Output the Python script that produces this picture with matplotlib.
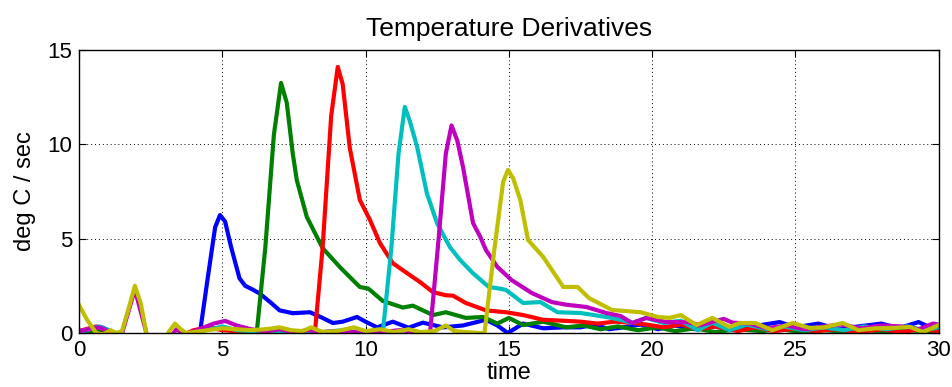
import numpy as np
import matplotlib
matplotlib.use("Agg")
import matplotlib.pyplot as plt

# values (time in sec, deg C / sec)
blue_t = [0, 0.5, 0.8, 1.1, 1.5, 3.5, 4.0, 4.22, 4.5, 4.75, 4.92, 5.1, 5.3, 5.6, 5.8, 6.0, 6.3, 6.7, 7.0,
          7.46, 8.06, 8.5, 8.86, 9.2, 9.7, 10.0, 10.4, 10.95, 11.5, 12.0, 12.7, 13.4, 14.2, 14.6, 14.96,
          15.5, 16.2, 16.9, 17.5, 18.0, 18.5, 19.0, 19.6, 20.2, 20.8, 21.5, 22.2, 22.8, 23.5, 24.45, 25.0,
          25.8, 26.5, 27.2, 28.0, 28.6, 29.3, 29.7, 30]
blue_y = [-0.2, 0.1, 0.3, 0.1, -0.3, -0.3, -0.1, 0.0, 3.0, 5.6, 6.25, 5.9, 4.6, 2.9, 2.5, 2.35, 2.1, 1.6, 1.2,
          1.05, 1.1, 0.8, 0.53, 0.6, 0.85, 0.6, 0.3, 0.6, 0.28, 0.55, 0.3, 0.4, 0.7, 0.4, 0.0,
          0.5, 0.25, 0.3, 0.3, 0.45, 0.2, 0.3, 0.45, 0.2, 0.4, 0.2, 0.35, 0.15, 0.35, 0.58, 0.3,
          0.5, 0.2, 0.35, 0.5, 0.25, 0.58, 0.3, 0.2]

green_t = [0, 0.6, 1.0, 1.5, 3.5, 4.0, 4.5, 5.0, 5.5, 6.0, 6.2, 6.5, 6.8, 7.05, 7.25, 7.46, 7.6, 7.95, 8.5,
           9.1, 9.56, 9.8, 10.1, 10.6, 11.3, 11.65, 12.35, 12.8, 13.5, 14.1, 14.6, 15.0, 15.5, 16.2, 17.0,
           17.6, 18.2, 18.8, 19.5, 20.2, 20.8, 21.5, 22.2, 23.0, 23.8, 24.5, 25.2, 26.0, 26.8, 27.5, 28.3,
           29.0, 29.6, 30]
green_y = [-0.2, 0.2, 0.1, -0.3, -0.2, 0.1, 0.3, 0.2, 0.1, 0.05, 0.0, 4.5, 10.5, 13.25, 12.2, 9.5, 8.1, 6.15, 4.5,
           3.5, 2.8, 2.44, 2.35, 1.7, 1.35, 1.45, 0.95, 1.1, 0.8, 0.85, 0.5, 0.8, 0.42, 0.6, 0.3,
           0.4, 0.2, 0.35, 0.15, 0.3, 0.1, 0.25, 0.05, 0.2, 0.1, 0.2, 0.05, 0.15, 0.05, 0.15, 0.05,
           0.15, 0.05, 0.1]

red_t = [0, 0.6, 1.0, 1.4, 3.5, 4.0, 4.5, 5.0, 5.5, 6.0, 6.5, 7.0, 7.5, 8.0, 8.23, 8.5, 8.8, 9.03, 9.2, 9.45,
         9.8, 10.15, 10.5, 10.95, 11.44, 11.9, 12.35, 12.8, 13.05, 13.5, 14.2, 14.9, 15.5, 16.2, 16.9,
         17.5, 18.1, 18.7, 19.2, 19.8, 20.4, 21.0, 21.6, 22.2, 23.0, 23.6, 24.3, 25.0, 25.7, 26.4, 27.2,
         28.0, 28.7, 29.4, 30]
red_y = [0.1, 0.35, 0.1, -0.3, -0.2, 0.15, 0.3, 0.15, 0.1, 0.15, 0.05, 0.2, 0.05, -0.05, 0.0, 4.5, 11.5, 14.1, 13.2, 9.8,
         7.05, 6.0, 4.77, 3.7, 3.18, 2.7, 2.17, 2.0, 1.98, 1.59, 1.2, 1.1, 0.95, 0.7, 0.65,
         0.6, 0.5, 0.6, 0.55, 0.45, 0.3, 0.45, 0.2, 0.35, 0.1, 0.3, 0.1, 0.25, 0.1, 0.2, 0.05,
         0.2, 0.05, 0.2, 0.1]

cyan_t = [0, 0.7, 1.1, 1.5, 3.5, 4.0, 4.6, 5.0, 5.5, 6.0, 6.6, 7.2, 7.8, 8.5, 9.2, 9.8, 10.2, 10.6, 10.9, 11.15,
          11.37, 11.55, 11.8, 12.14, 12.5, 12.94, 13.3, 13.74, 14.3, 14.7, 14.9, 15.5, 16.1, 16.7, 17.5,
          18.4, 18.9, 19.3, 19.8, 20.4, 21.0, 21.6, 22.1, 22.7, 23.3, 24.0, 24.6, 25.3, 26.0, 26.7, 27.4,
          28.2, 28.9, 29.5, 30]
cyan_y = [0.05, 0.35, 0.1, -0.3, -0.2, 0.05, 0.2, 0.35, 0.15, 0.1, 0.15, 0.05, 0.1, 0.05, 0.15, 0.0, -0.05, 0.0, 4.5, 9.5,
          11.98, 11.2, 9.86, 7.4, 5.8, 4.56, 3.87, 3.18, 2.44, 2.35, 2.28, 1.59, 1.64, 1.1, 1.06,
          0.85, 0.7, 0.53, 0.8, 0.53, 0.65, 0.15, 0.55, 0.15, 0.45, 0.2, 0.35, 0.15, 0.3, 0.15, 0.35,
          0.2, 0.35, 0.15, 0.3]

mag_t = [0, 0.7, 1.1, 1.45, 1.6, 1.95, 2.3, 2.4, 3.2, 3.4, 3.7, 4.2, 4.7, 5.1, 5.5, 6.0, 6.5, 7.0, 7.5, 8.0,
         8.5, 9.0, 9.5, 10.0, 10.5, 11.2, 11.8, 12.25, 12.55, 12.8, 13.0, 13.2, 13.4, 13.75, 14.0, 14.2,
         14.6, 15.1, 15.8, 16.5, 17.0, 17.7, 18.4, 18.9, 19.3, 19.8, 20.5, 21.2, 21.7, 22.5, 22.8, 23.4,
         24.0, 24.7, 25.3, 26.0, 26.6, 27.3, 28.0, 28.7, 29.3, 29.8, 30]
mag_y = [0.1, 0.3, 0.05, -0.3, 0.5, 2.3, 0.3, -0.3, -0.2, 0.2, -0.1, 0.2, 0.5, 0.64, 0.4, 0.2, 0.1, 0.2, 0.05, 0.15,
         0.05, 0.1, 0.05, 0.1, 0.05, 0.15, 0.05, 0.0, 5.0, 9.5, 11.0, 10.2, 8.8, 5.83, 5.1, 4.4,
         3.5, 2.8, 2.12, 1.64, 1.5, 1.38, 1.06, 0.9, 0.53, 0.8, 0.58, 0.58, 0.42, 0.75, 0.55, 0.5,
         0.25, 0.4, 0.2, 0.35, 0.45, 0.25, 0.4, 0.35, 0.2, 0.5, 0.45]

yel_t = [0, 0.3, 0.6, 0.8, 1.1, 1.3, 1.5, 1.75, 1.95, 2.15, 2.35, 2.5, 3.0, 3.15, 3.35, 3.55, 3.75, 4.0, 4.5,
         5.0, 5.5, 6.0, 6.5, 7.0, 7.4, 7.8, 8.1, 8.5, 9.0, 9.6, 10.0, 10.5, 11.0, 11.5, 11.9, 12.4, 12.8,
         13.1, 13.5, 14.0, 14.15, 14.5, 14.8, 14.97, 15.15, 15.4, 15.67, 16.2, 16.9, 17.4, 17.8, 18.6,
         19.6, 20.2, 20.6, 21.0, 21.55, 22.1, 22.7, 23.05, 23.6, 24.2, 24.9, 25.5, 26.0, 26.65, 27.2,
         27.8, 28.4, 29.0, 29.45, 30]
yel_y = [1.48, 0.65, 0.0, -0.1, 0.15, 0.0, 0.1, 1.4, 2.5, 1.6, 0.0, -0.4, -0.3, 0.1, 0.5, 0.2, 0.0, 0.05, 0.15,
         0.25, 0.2, 0.15, 0.2, 0.3, 0.15, 0.1, 0.3, 0.05, 0.1, 0.3, 0.1, 0.2, 0.05, 0.2, 0.05, 0.1, 0.4,
         0.1, 0.05, 0.0, 0.0, 4.5, 8.0, 8.64, 8.2, 7.05, 4.93, 4.03, 2.44, 2.44, 1.85, 1.22,
         1.1, 0.85, 0.8, 0.95, 0.42, 0.8, 0.32, 0.53, 0.53, 0.15, 0.53, 0.27, 0.3, 0.53, 0.15,
         0.25, 0.27, 0.32, 0.05, 0.42]

series = [
    (blue_t, blue_y, (0, 0, 1)),
    (green_t, green_y, (0, 0.5, 0)),
    (red_t, red_y, (1, 0, 0)),
    (cyan_t, cyan_y, (0, 0.75, 0.75)),
    (mag_t, mag_y, (0.75, 0, 0.75)),
    (yel_t, yel_y, (0.75, 0.75, 0)),
]

plt.rcParams['font.family'] = ['Liberation Sans', 'DejaVu Sans']

fig = plt.figure(figsize=(9.52, 3.87), dpi=100)
ax = fig.add_axes([0.083, 0.1395, 0.903, 0.7315])

for t, y, c in series:
    ax.plot(t, y, color=c, lw=3.0, solid_joinstyle='round')

ax.set_xlim(0, 30)
ax.set_ylim(0, 15)
ax.set_xticks([0, 5, 10, 15, 20, 25, 30])
ax.set_yticks([0, 5, 10, 15])
ax.tick_params(direction='in', top=True, right=True, labelsize=16, length=5, pad=5)
ax.grid(True, linestyle=(0, (1, 3)), color='k', linewidth=0.7)
for s in ax.spines.values():
    s.set_linewidth(1.0)

ax.set_title("Temperature Derivatives", fontsize=19, pad=10)
ax.set_xlabel("time", fontsize=17, labelpad=1)
ax.set_ylabel("deg C / sec", fontsize=17, labelpad=8)

fig.savefig("out.png", dpi=100)
